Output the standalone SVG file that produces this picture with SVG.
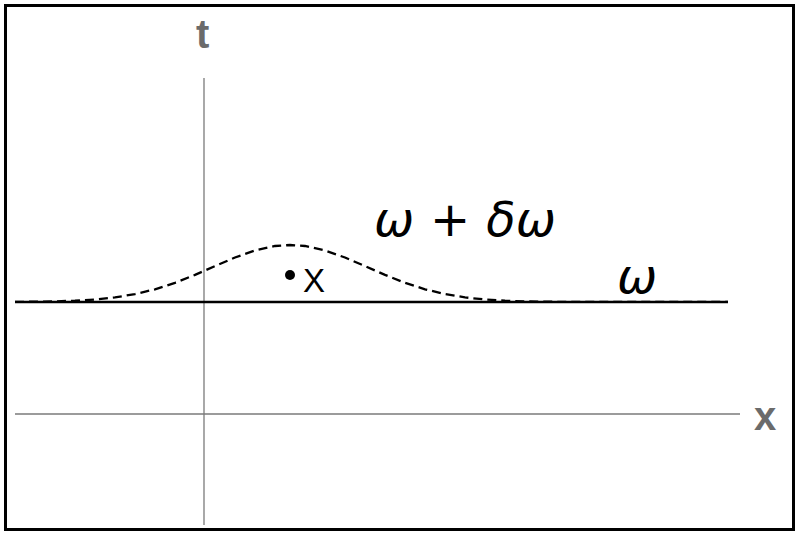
<svg xmlns="http://www.w3.org/2000/svg" width="799" height="536" viewBox="0 0 799 536">
<style>
.axis{stroke:#7a7a7a;stroke-width:1.3;fill:none}
.alabel{font-family:"Liberation Sans",Arial,sans-serif;font-weight:bold;font-size:40px;fill:#6b6b6b}
.math{font-family:"DejaVu Sans",sans-serif;font-style:italic;font-size:48px;fill:#000}
</style>
<rect x="0" y="0" width="799" height="536" fill="#fff"/>
<rect x="5.5" y="5.5" width="788" height="524" fill="none" stroke="#000" stroke-width="3"/>
<g id="axes">
<line class="axis" x1="204" y1="78" x2="204" y2="525"/>
<line class="axis" x1="15" y1="414" x2="740" y2="414"/>
<text class="alabel" x="196" y="48">t</text>
<text class="alabel" x="754" y="430">x</text>
</g>
<g id="curves">
<line x1="15" y1="302" x2="728" y2="302" stroke="#000" stroke-width="2.5"/>
<path d="M15,301.9 L35,301.7 L55,301.4 L75,300.7 L95,299.5 L115,297.4 L135,294.1 L155,289.3 L175,282.8 L195,274.9 L215,266.1 L235,257.5 L255,250.5 L275,246 L290,245 L305,246 L325,250.5 L345,257.5 L365,266.1 L385,274.9 L405,282.8 L425,289.3 L445,294.1 L465,297.4 L485,299.5 L505,300.7 L525,301.4 L545,301.7 L565,301.9 L728,301.9" fill="none" stroke="#000" stroke-width="2.3" stroke-dasharray="9,5"/>
</g>
<g id="point">
<circle cx="290" cy="275" r="5" fill="#000"/>
<text x="303" y="292" font-family="'Liberation Sans',Arial,sans-serif" font-size="33" fill="#000">X</text>
</g>
<g id="labels">
<text class="math" x="374" y="236" textLength="182" lengthAdjust="spacing">ω + δω</text>
<text class="math" x="617" y="293">ω</text>
</g>
</svg>
